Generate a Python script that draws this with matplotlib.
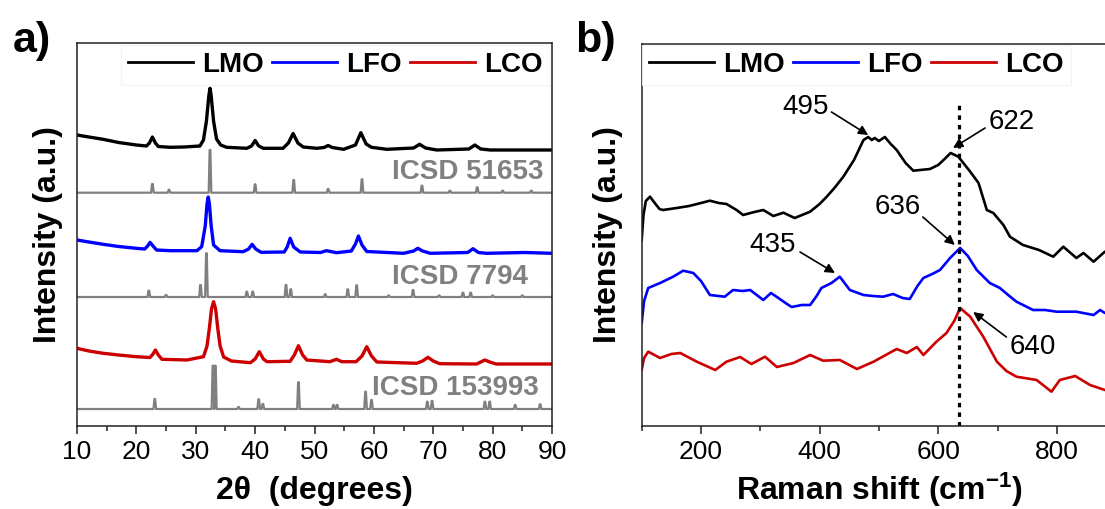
import matplotlib
matplotlib.use('Agg')
import matplotlib.pyplot as plt
from matplotlib.ticker import MultipleLocator

plt.rcParams['font.family'] = ['Liberation Sans', 'DejaVu Sans']
plt.rcParams['mathtext.fontset'] = 'custom'
plt.rcParams['mathtext.rm'] = 'Liberation Sans'
plt.rcParams['mathtext.bf'] = 'Liberation Sans:bold'
plt.rcParams['mathtext.it'] = 'Liberation Sans:italic'

# ---------------- data: XRD (panel a) ----------------
lmo_2t = [10.0, 12, 14.4, 17, 20.0, 21.7, 22.2, 22.7, 23.2, 23.7, 25.7, 28, 30.7, 31.3, 31.8, 32.2,
          32.4, 32.6, 33.0, 33.5, 34.2, 35.2, 38.6, 39.4, 40.0, 40.6, 41.4, 44.7, 45.6, 46.4, 47.2,
          48.1, 50.4, 51.6, 52.3, 53.0, 54.9, 56.9, 57.8, 58.7, 59.6, 62.2, 66.7, 67.7, 68.7, 70.6,
          76.0, 77.0, 78.0, 79.6, 84, 90]
lmo_int = [291, 289, 286.7, 283.5, 281, 280, 283, 289, 283, 279.5, 278.7, 279, 280, 286, 305, 330,
           337.7, 330, 305, 287, 281, 278.7, 277.7, 280, 285.5, 280, 277.7, 277.7, 283, 292.5, 283,
           279, 277.7, 278.5, 280.5, 278.5, 276.7, 281, 293.3, 282, 278.7, 276.7, 278, 281.7, 278, 276,
           277, 281, 277, 276, 276, 276]

lfo_2t = [10.0, 12, 14.4, 17, 20.0, 21.4, 21.9, 22.3, 22.8, 23.4, 25.7, 30.2, 31.0, 31.6, 31.9, 32.1,
          32.3, 32.6, 33.0, 34.1, 38.0, 38.9, 39.5, 40.1, 41.0, 44.9, 45.4, 45.9, 46.5, 47.6, 51.0,
          52.0, 53.7, 56.2, 56.9, 57.4, 58.0, 58.8, 65.0, 66.7, 67.4, 68.2, 69.5, 75.8, 76.7, 77.6,
          79.0, 85.4, 90]
lfo_int = [186, 184, 181.7, 179.5, 177.7, 177, 180, 183.7, 180, 176, 175.3, 175.3, 179.3, 200, 222, 229,
           222, 200, 181, 175.3, 174.3, 177, 181.7, 177, 173.7, 174, 179, 187.7, 179, 174, 173.5,
           175.3, 173.3, 175, 182, 190, 181, 174.5, 172.7, 175, 177.7, 175, 172.7, 173.5, 177.3, 173.5,
           172.7, 173.5, 172.7]

lco_2t = [10, 12, 14.4, 17, 20, 22.3, 22.8, 23.2, 23.7, 24.3, 28.5, 31.3, 31.9, 32.3, 32.65, 33.0,
          33.35, 33.7, 34.1, 34.7, 36, 39.2, 40.0, 40.7, 41.4, 42.0, 45.9, 46.6, 47.3, 48.0, 48.7,
          52.6, 53.7, 54.6, 57.0, 58.0, 58.8, 59.6, 60.5, 67.2, 68.2, 69.1, 70.0, 71.1, 77.3, 78.0,
          78.7, 79.5, 80.6, 90]
lco_int = [77.7, 75, 72.7, 71, 69.3, 68.5, 72, 76, 71, 66.7, 66, 69.3, 80, 98, 117, 124.3,
           117, 98, 80, 69, 65, 63.3, 67, 74.3, 67, 64.3, 64.7, 71, 80.3, 71, 66,
           64.3, 66.7, 64.3, 64.3, 70, 79.3, 70, 64, 62.7, 65, 68.7, 65, 62.3, 62, 64,
           66, 64, 62, 62]

# reference stick patterns (peak position, relative intensity)
icsd51653_pos = [22.7, 25.5, 32.4, 40.0, 46.5, 52.3, 58.0, 68.1, 72.8, 77.4, 81.7, 86.5]
icsd51653_int = [8.7, 3, 42.7, 8.4, 12.7, 3.7, 13.4, 7, 2, 5.4, 2, 2]
icsd7794_pos = [22.1, 25.0, 30.8, 31.8, 38.6, 39.6, 45.2, 46.0, 51.8, 55.6, 57.1, 62.5, 66.6, 71.0,
                75.0, 76.3, 80.0, 85.0]
icsd7794_int = [6.3, 2, 12, 43.7, 5.3, 5.3, 12, 7.7, 2.7, 7.7, 11.7, 1.5, 7, 1.5, 4.3, 4.3, 1.5, 1.5]
icsd153993_pos = [23.1, 32.9, 33.3, 37.2, 40.6, 41.3, 47.3, 53.2, 53.8, 58.6, 59.6, 69.0, 69.8,
                  78.7, 79.5, 83.8, 88.0]
icsd153993_int = [10, 43.3, 43.3, 2, 9.7, 5, 26.7, 4, 4, 17.3, 9, 7.3, 8, 7.3, 7.3, 4, 4.7]

# ---------------- data: Raman (panel b) ----------------
lmo_r_x = [100, 103, 107, 114, 122, 130, 136, 159, 180, 200, 215, 230, 243, 260, 271, 290, 305, 322,
           339, 358, 384, 400, 412, 425, 440, 458, 474, 482, 488, 493, 500, 510, 520, 530, 545, 558,
           586, 600, 609, 621, 634, 654, 668, 682, 693, 710, 721, 743, 770, 794, 811, 833, 845, 862,
           881, 900]
lmo_r_y = [186, 211, 225, 229.3, 223, 217, 216, 218, 220, 223, 225.3, 223, 222, 216, 211, 214, 216, 210,
           213.3, 208, 214.3, 222, 229.3, 238, 249.3, 266, 286, 289, 286, 288, 285, 289, 282, 276, 263,
           255.3, 257, 261, 266, 273, 269.3, 254.3, 243, 216, 213, 201, 189.3, 181, 176, 169.3, 179.3,
           168, 173, 164.3, 174.3, 176]

lfo_r_x = [100, 104, 111, 131, 153, 170, 187, 200, 215, 240, 254, 270, 283, 305, 318, 328, 345, 353,
           370, 384, 395, 403, 420, 434, 451, 474, 490, 507, 524, 540, 552, 565, 575, 590, 603, 620,
           637, 650, 665, 687, 704, 720, 732, 760, 780, 800, 833, 862, 873, 881, 900]
lfo_r_y = [103, 125, 138, 143, 149.3, 155.3, 153, 145, 131, 129.3, 136, 135, 136, 126, 133, 129, 122, 119,
           121, 121, 130, 138, 143, 149.3, 136, 131, 130, 129.3, 132, 128, 127, 140, 148, 152, 156, 168,
           178, 170, 156, 143, 138, 130, 124.3, 116, 116, 114.3, 114.3, 111, 116, 113, 114]

lco_r_x = [100, 104, 111, 131, 150, 165, 193, 224, 243, 266, 285, 308, 328, 356, 384, 406, 434, 463,
           491, 530, 547, 564, 575, 597, 614, 627, 637, 654, 676, 699, 715, 732, 766, 791, 805, 831,
           856, 881, 900]
lco_r_y = [56, 68, 74.3, 68, 72, 73, 64.3, 56, 64.3, 69, 62, 69.3, 59, 63, 71, 65.3, 66, 57,
           64.3, 77, 73, 79, 71, 84.3, 93, 105, 118, 109.3, 89.3, 64.3, 55, 49.3, 46, 34.3, 46, 50,
           41, 36, 35]

# peak labels: text, text position, arrow tail, arrow head
raman_labels = ['495', '622', '636', '435', '640']
raman_label_pos = [(377, 319), (724, 304), (532, 219), (321, 181), (760, 79)]
raman_arrow_tail = [(420, 314), (679, 298), (574, 209), (367, 174), (715, 89)]
raman_arrow_head = [(482, 291), (625, 278), (628, 181), (426, 153), (659, 114)]

sample_names = ['LMO', 'LFO', 'LCO']
colors = ['#000000', '#0000ff', '#cc0000']
grey = '#808080'

# ---------------- figure ----------------
W, H = 1105, 509
fig = plt.figure(figsize=(W / 100, H / 100), dpi=100)
ax1 = fig.add_axes([77 / W, (H - 426) / H, 475 / W, 383 / H])
ax2 = fig.add_axes([641.7 / W, (H - 426) / H, 474.4 / W, 382 / H])


def sticks(pos, ints, base, x0=10, x1=90, half=0.22, top=0.06):
    xs, ys = [x0], [base]
    for p, h in sorted(zip(pos, ints)):
        xs += [p - half, p - top, p + top, p + half]
        ys += [base, base + h, base + h, base]
    xs.append(x1)
    ys.append(base)
    return xs, ys


# panel a
l1, = ax1.plot(lmo_2t, lmo_int, color=colors[0], lw=2.4)
l2, = ax1.plot(lfo_2t, lfo_int, color=colors[1], lw=2.4)
l3, = ax1.plot(lco_2t, lco_int, color=colors[2], lw=2.4)
for pos, ints, base in [(icsd51653_pos, icsd51653_int, 233.3),
                        (icsd7794_pos, icsd7794_int, 129),
                        (icsd153993_pos, icsd153993_int, 17)]:
    xs, ys = sticks(pos, ints, base)
    ax1.plot(xs, ys, color=grey, lw=1.6)

ax1.text(63.0, 254, 'ICSD 51653', color=grey, fontsize=20, fontweight='bold', va='center', ha='left')
ax1.text(63.0, 149, 'ICSD 7794', color=grey, fontsize=20, fontweight='bold', va='center', ha='left')
ax1.text(59.7, 38, 'ICSD 153993', color=grey, fontsize=20, fontweight='bold', va='center', ha='left')

ax1.set_xlim(10, 90)
ax1.set_ylim(0, 383)
ax1.xaxis.set_major_locator(MultipleLocator(10))
ax1.xaxis.set_minor_locator(MultipleLocator(5))
ax1.set_yticks([])
ax1.set_xlabel('2θ  (degrees)', fontsize=23, fontweight='bold', labelpad=9)
ax1.set_ylabel('Intensity (a.u.)', fontsize=23, fontweight='bold')
ax1.yaxis.set_label_coords(-0.03, 0.5)

# panel b
r1, = ax2.plot(lmo_r_x, lmo_r_y, color=colors[0], lw=1.9)
r2, = ax2.plot(lfo_r_x, lfo_r_y, color=colors[1], lw=1.9)
r3, = ax2.plot(lco_r_x, lco_r_y, color=colors[2], lw=1.9)
ax2.plot([635, 635], [0, 324], color='black', lw=2.3, linestyle=(0, (1.4, 1.6)))
for t, tp, tail, head in zip(raman_labels, raman_label_pos, raman_arrow_tail, raman_arrow_head):
    ax2.text(tp[0], tp[1], t, fontsize=20, ha='center', va='center')
    ax2.annotate('', xy=head, xytext=tail,
                 arrowprops=dict(arrowstyle='-|>', lw=1.2, color='black',
                                 mutation_scale=14, shrinkA=0, shrinkB=0))
ax2.set_xlim(100, 900)
ax2.set_ylim(0, 382)
ax2.xaxis.set_major_locator(MultipleLocator(200))
ax2.xaxis.set_minor_locator(MultipleLocator(100))
ax2.set_yticks([])
ax2.set_xlabel(r'Raman shift (cm$^{\mathbf{-1}}$)', fontsize=23, fontweight='bold', labelpad=5)
ax2.set_ylabel('Intensity (a.u.)', fontsize=23, fontweight='bold')
ax2.yaxis.set_label_coords(-0.039, 0.5)

for ax in (ax1, ax2):
    for s in ax.spines.values():
        s.set_linewidth(1.1)
        s.set_color('#222222')
    ax.tick_params(axis='x', which='major', direction='out', length=6, width=1.1,
                   labelsize=19, pad=4, color='#222222')
    ax.tick_params(axis='x', which='minor', direction='out', length=3.5, width=1.1,
                   color='#222222')

leg_kw = dict(ncol=3, loc='upper left', frameon=True, fancybox=False, borderpad=0.25,
              handlelength=2.35, handletextpad=0.32, columnspacing=0.3,
              prop={'weight': 'bold', 'size': 20}, borderaxespad=0)
leg1 = ax1.legend([l1, l2, l3], sample_names, bbox_to_anchor=(121 / W, 1 - 45 / H),
                  bbox_transform=fig.transFigure, **leg_kw)
leg2 = ax2.legend([r1, r2, r3], sample_names, bbox_to_anchor=(642 / W, 1 - 45 / H),
                  bbox_transform=fig.transFigure, **leg_kw)
for lg in (leg1, leg2):
    lg.get_frame().set_edgecolor('#f2f2f2')
    lg.get_frame().set_linewidth(0.8)
    for ln in lg.get_lines():
        ln.set_linewidth(2.0)

fig.text(13 / W, 1 - 52 / H, 'a)', fontsize=31, fontweight='bold', ha='left', va='baseline')
fig.text(575 / W, 1 - 52 / H, 'b)', fontsize=31, fontweight='bold', ha='left', va='baseline')

fig.savefig('out.png', dpi=100)
